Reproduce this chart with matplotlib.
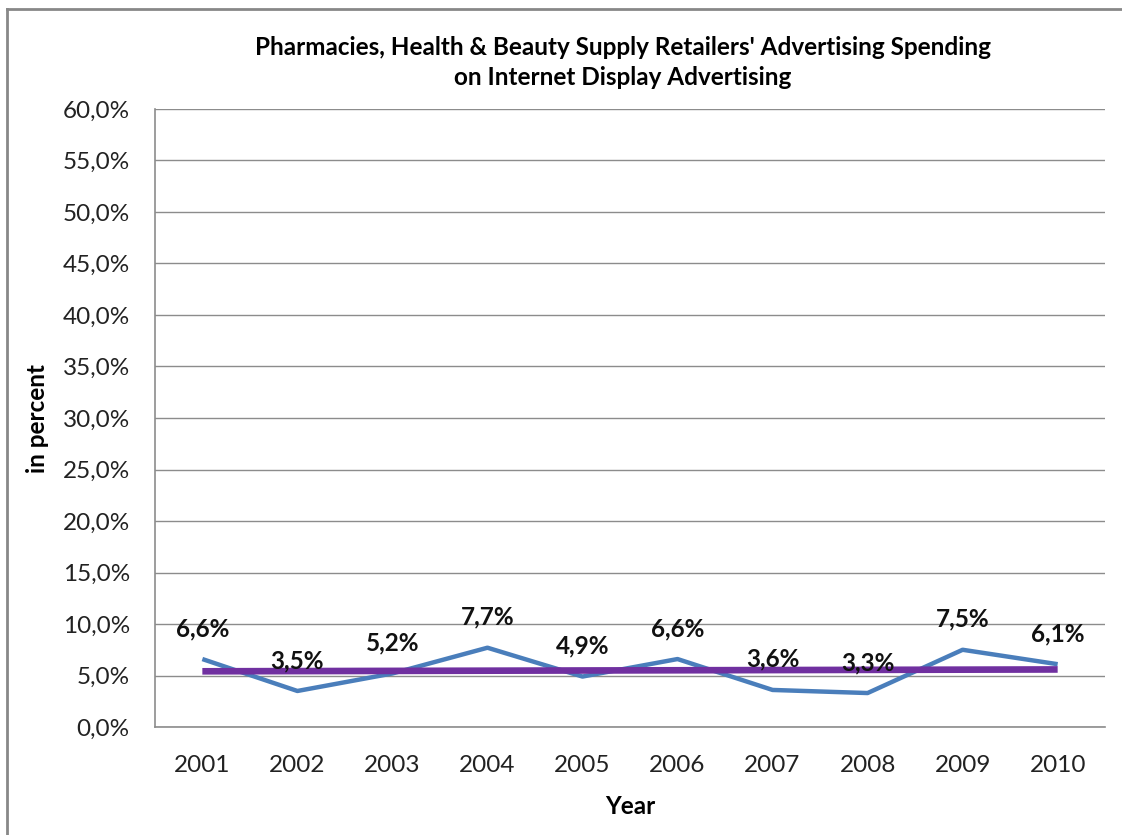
import numpy as np
import matplotlib.pyplot as plt
from matplotlib.lines import Line2D
from matplotlib.ticker import FuncFormatter

years = ['2001', '2002', '2003', '2004', '2005', '2006', '2007', '2008', '2009', '2010']
spending = [6.6, 3.5, 5.2, 7.7, 4.9, 6.6, 3.6, 3.3, 7.5, 6.1]
trend = [5.41, 5.43, 5.45, 5.47, 5.49, 5.51, 5.53, 5.55, 5.57, 5.59]

plt.rcParams['font.family'] = ['Lato', 'DejaVu Sans']

fig = plt.figure(figsize=(11.22, 8.35), dpi=100)
ax = fig.add_axes([0.138, 0.1293, 0.847, 0.7402])

x = np.arange(len(years))
ax.plot(x, spending, color='#4A7EBB', lw=3.2, solid_capstyle='butt', zorder=3)
ax.plot(x, trend, color='#7030A0', lw=4.8, solid_capstyle='butt', zorder=4)

for xi, v in zip(x, spending):
    ax.annotate(f'{v:.1f}%'.replace('.', ','), (xi, v), xytext=(0, 22),
                textcoords='offset points', ha='center', va='center',
                fontsize=17.5, fontweight='bold', color='#111111', zorder=5)

ax.set_xlim(-0.5, 9.5)
ax.set_ylim(0, 60)
ax.set_yticks(np.arange(0, 61, 5))
ax.yaxis.set_major_formatter(FuncFormatter(lambda v, p: f'{v:.1f}%'.replace('.', ',')))
ax.set_xticks(x)
ax.set_xticklabels(years)
ax.tick_params(length=0, labelsize=17.5, colors='#222222', pad=20)
ax.tick_params(axis='y', pad=18)
ax.grid(axis='y', color='#8C8C8C', lw=1)
ax.set_axisbelow(True)
for s in ['top', 'right']:
    ax.spines[s].set_visible(False)
for s in ['left', 'bottom']:
    ax.spines[s].set_color('#8C8C8C')
    ax.spines[s].set_linewidth(1.2)

ax.set_xlabel('Year', fontsize=17.5, fontweight='bold', labelpad=14)
ax.set_ylabel('in percent', fontsize=17.5, fontweight='bold', labelpad=10)
fig.text(0.555, 0.925, "Pharmacies, Health & Beauty Supply Retailers' Advertising Spending\non Internet Display Advertising",
         ha='center', va='center', fontsize=17.5, fontweight='bold', linespacing=1.4)

# chart area border (only top and left edges show)
fig.add_artist(Line2D([0.0062, 0.0062], [0, 0.989], color='#888888', lw=2))
fig.add_artist(Line2D([0.0062, 1.0], [0.989, 0.989], color='#888888', lw=2))

fig.savefig('out.png', dpi=100)
